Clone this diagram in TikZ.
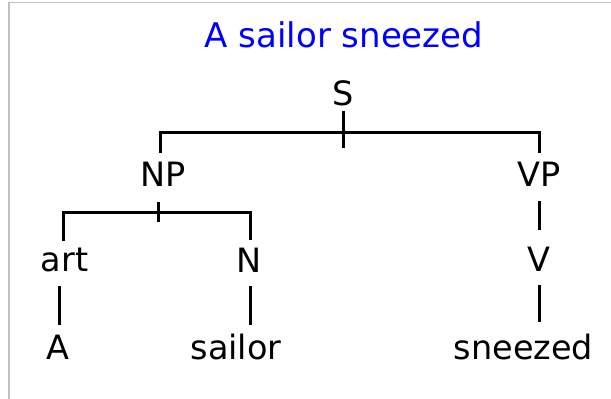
\documentclass[tikz,border=0pt]{standalone}
\usepackage{fontspec}
\setmainfont{DejaVu Sans}
\begin{document}
\begin{tikzpicture}[x=1pt,y=-1pt,
  lbl/.style={anchor=base,inner sep=0pt,font=\fontsize{33.5}{33.5}\selectfont},
  ttl/.style={anchor=base,inner sep=0pt,font=\fontsize{34}{34}\selectfont,text={rgb,255:red,0;green,0;blue,255}},
  br/.style={line width=3pt,line cap=butt},
  frame/.style={line width=1.2pt,draw={rgb,255:red,192;green,192;blue,192}}]
\useasboundingbox (0,0) rectangle (611,399);
\fill[white] (0,0) rectangle (611,399);
\coordinate (ftl) at (9,2.5);
\coordinate (ftr) at (611,2.5);
\coordinate (fbl) at (9,399);
\draw[frame] (fbl) -- (ftl) -- (ftr);
% labels
\node[ttl] (title) at (344,47.5) {A sailor sneezed};
\node[lbl] (S) at (343,105) {S};
\node[lbl] (NP) at (163,186.5) {NP};
\node[lbl] (VP) at (539,186.5) {VP};
\node[lbl] (art) at (64.5,271) {art};
\node[lbl] (N) at (249,272.5) {N};
\node[lbl] (V) at (539,271) {V};
\node[lbl] (A) at (58,359.5) {A};
\node[lbl] (sailor) at (236,359.5) {sailor};
\node[lbl] (sneezed) at (523.5,359.5) {sneezed};
% S bracket
\coordinate (s1) at (343,111);
\coordinate (s2) at (343,148);
\coordinate (sL) at (160,132);
\coordinate (sR) at (539.5,132);
\coordinate (npT) at (160,153);
\coordinate (vpT) at (539.5,153);
\draw[br] (s1) -- (s2);
\draw[br] (npT) -- (sL) -- (sR) -- (vpT);
% NP bracket
\coordinate (n1) at (158,202);
\coordinate (n2) at (158,222);
\coordinate (nL) at (63,212);
\coordinate (nR) at (250,212);
\coordinate (artT) at (63,241);
\coordinate (nT) at (250,240);
\draw[br] (n1) -- (n2);
\draw[br] (artT) -- (nL) -- (nR) -- (nT);
% unary branches
\coordinate (a1) at (59,286);
\coordinate (a2) at (59,325);
\draw[br] (a1) -- (a2);
\coordinate (b1) at (250,286);
\coordinate (b2) at (250,325);
\draw[br] (b1) -- (b2);
\coordinate (c1) at (539.5,201);
\coordinate (c2) at (539.5,230);
\draw[br] (c1) -- (c2);
\coordinate (d1) at (539.5,285);
\coordinate (d2) at (539.5,322);
\draw[br] (d1) -- (d2);
\end{tikzpicture}
\end{document}
